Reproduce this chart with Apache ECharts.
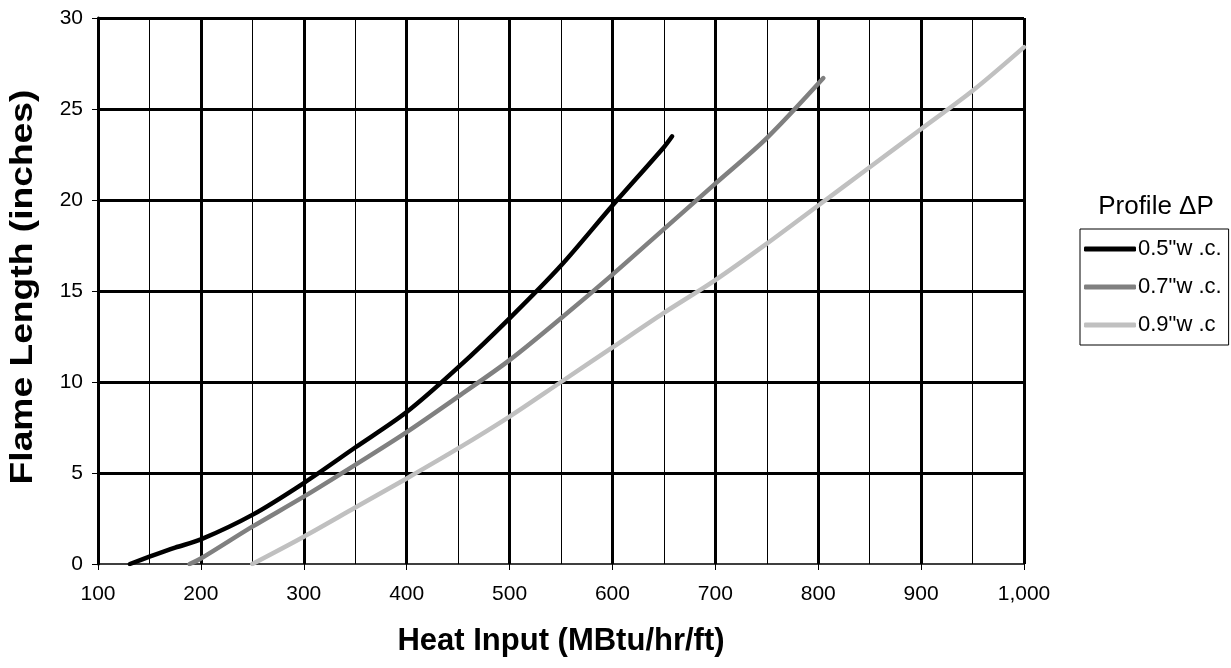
<!DOCTYPE html>
<html>
<head>
<meta charset="utf-8">
<script src="https://cdn.jsdelivr.net/npm/echarts@6/dist/echarts.min.js"></script>
<style>html,body{margin:0;padding:0;background:#fff;}#c{width:1231px;height:668px;}</style>
</head>
<body>
<div id="c"></div>
<script>
var seriesNames = ['0.5"w .c.', '0.7"w .c.', '0.9"w .c'];
var heat05 = [131, 150, 175, 200, 250, 300, 350, 400, 450, 500, 550, 600, 650, 658];
var flame05 = [0, 0.4, 0.9, 1.35, 2.7, 4.45, 6.4, 8.35, 10.8, 13.5, 16.4, 19.7, 22.9, 23.5];
var heat07 = [189, 200, 250, 300, 350, 400, 450, 500, 550, 600, 650, 700, 750, 805];
var flame07 = [0, 0.3, 2.05, 3.7, 5.45, 7.25, 9.2, 11.2, 13.5, 15.9, 18.4, 20.9, 23.4, 26.7];
var heat09 = [250, 300, 350, 400, 450, 500, 550, 600, 650, 700, 750, 800, 850, 900, 950, 1000];
var flame09 = [0, 1.5, 3.1, 4.7, 6.35, 8.1, 10.0, 11.9, 13.8, 15.6, 17.6, 19.7, 21.8, 23.9, 26.0, 28.4];
var xTicks = {min: 100, max: 1000, interval: 100};
var yTicks = {min: 0, max: 30, interval: 5};
var xTitle = 'Heat Input (MBtu/hr/ft)';
var yTitle = 'Flame Length (inches)';
var legendTitle = 'Profile \u0394P';
var colors = ['#000000', '#808080', '#c0c0c0'];

function pairs(xs, ys) { return xs.map(function (x, i) { return [x, ys[i]]; }); }
var FONT = "'Liberation Sans', Arial, sans-serif";
var chart = echarts.init(document.getElementById('c'));
chart.setOption({
  animation: false,
  backgroundColor: '#ffffff',
  grid: {left: 98, right: 207, top: 18, bottom: 104, containLabel: false},
  xAxis: {
    type: 'value', min: xTicks.min, max: xTicks.max, interval: xTicks.interval,
    name: xTitle, nameLocation: 'middle', nameGap: 62,
    nameTextStyle: {fontFamily: FONT, fontSize: 31, fontWeight: 'bold', color: '#000'},
    axisLine: {show: true, lineStyle: {color: '#000', width: 1.5}},
    axisTick: {show: true, length: 6, lineStyle: {color: '#000', width: 1}},
    minorTick: {show: false, splitNumber: 2},
    axisLabel: {fontFamily: FONT, fontSize: 21, color: '#000', margin: 20,
      formatter: function (v) { return v >= 1000 ? Math.floor(v / 1000) + ',' + String(v % 1000).padStart(3, '0') : String(v); }},
    splitLine: {show: true, lineStyle: {color: '#000', width: 3}},
    minorSplitLine: {show: true, lineStyle: {color: '#000', width: 1}}
  },
  yAxis: {
    type: 'value', min: yTicks.min, max: yTicks.max, interval: yTicks.interval,
    axisLine: {show: true, lineStyle: {color: '#000', width: 3}},
    axisTick: {show: true, length: 6, lineStyle: {color: '#000', width: 1}},
    axisLabel: {fontFamily: FONT, fontSize: 21, color: '#000', margin: 15},
    splitLine: {show: true, showMinLine: false, lineStyle: {color: '#000', width: 3}}
  },
  legend: {
    orient: 'vertical', left: 1080, top: 229,
    data: seriesNames.map(function (n) { return {name: n, icon: 'roundRect'}; }),
    itemWidth: 52, itemHeight: 5, itemGap: 16, padding: [9, 7, 9, 4],
    borderColor: '#000', borderWidth: 1,
    textStyle: {fontFamily: FONT, fontSize: 22, color: '#000', padding: [0, 0, 0, -3]}
  },
  graphic: [{
    type: 'text', x: 1156, y: 207,
    style: {text: legendTitle, font: '26px ' + FONT, fill: '#000', align: 'center', verticalAlign: 'middle'}
  }, {
    type: 'text', x: 23, y: 287, rotation: Math.PI / 2, scaleX: 1.2,
    style: {text: yTitle, font: 'bold 31px ' + FONT, fill: '#000', align: 'center', verticalAlign: 'middle'}
  }],
  series: [
    {name: seriesNames[0], type: 'line', data: pairs(heat05, flame05), smooth: 0.3, symbol: 'none',
     lineStyle: {color: colors[0], width: 4.5, cap: 'round'}, itemStyle: {color: colors[0]}},
    {name: seriesNames[1], type: 'line', data: pairs(heat07, flame07), smooth: 0.3, symbol: 'none',
     lineStyle: {color: colors[1], width: 4.5, cap: 'round'}, itemStyle: {color: colors[1]}},
    {name: seriesNames[2], type: 'line', data: pairs(heat09, flame09), smooth: 0.3, symbol: 'none',
     lineStyle: {color: colors[2], width: 4.5, cap: 'round'}, itemStyle: {color: colors[2]}}
  ]
});
</script>
</body>
</html>
